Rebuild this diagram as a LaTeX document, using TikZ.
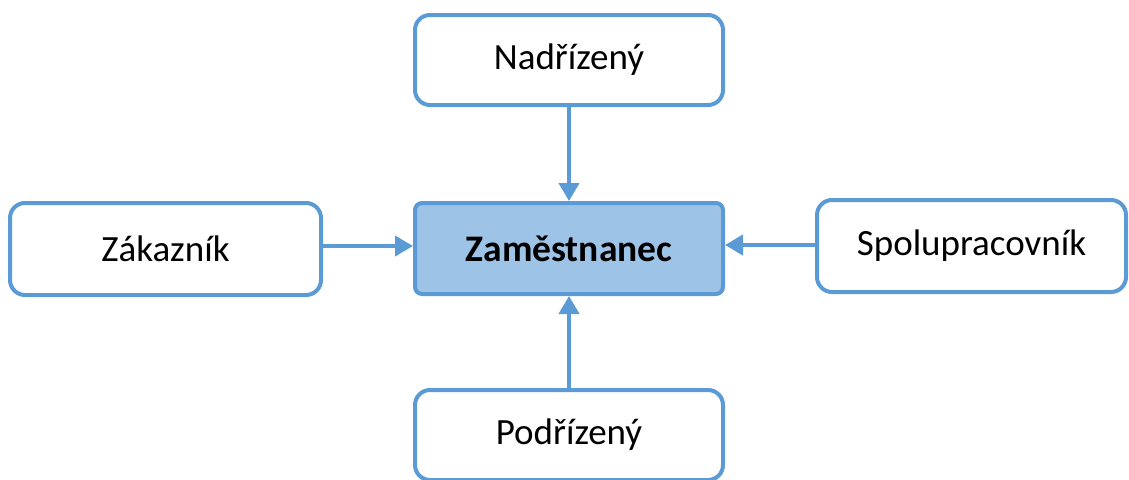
\documentclass[tikz,border=0pt]{standalone}
\usepackage{fontspec}
\setmainfont{Carlito}
\usetikzlibrary{arrows.meta}
\definecolor{boxblue}{HTML}{5B9BD5}
\definecolor{fillblue}{HTML}{9DC3E6}
\tikzset{
  outerbox/.style={draw=boxblue, line width=4pt, rounded corners=15pt, fill=white,
    minimum width=308pt, minimum height=90pt, font=\fontsize{37}{44}\selectfont, inner sep=0pt},
  mainbox/.style={outerbox, fill=fillblue, rounded corners=7pt, font=\fontsize{37.5}{44}\selectfont\bfseries},
  conn/.style={draw=boxblue, line width=4pt, -{Triangle[length=18pt,width=20pt]}}
}
\begin{document}
\begin{tikzpicture}[x=1pt,y=1pt]
\useasboundingbox (0,0) rectangle (1129,-479);
\node[outerbox] (top) at (569,-60) {Nadřízený};
\node[mainbox, minimum height=91pt] (center) at (569,-248.5) {Zaměstnanec};
\node[outerbox, minimum width=311pt, minimum height=92pt] (left) at (165.5,-249) {Zákazník};
\node[outerbox, minimum width=309pt, minimum height=92pt] (right) at (971.5,-246) {Spolupracovník};
\node[outerbox] (bottom) at (569,-435) {Podřízený};
\draw[conn] (top.south) -- (center.north);
\draw[conn] (bottom.north) -- (center.south);
\draw[conn] ([yshift=3pt]left.east) -- ([yshift=3pt]left.east -| center.west);
\draw[conn] ([yshift=1pt]right.west) -- ([yshift=1pt]right.west -| center.east);
\end{tikzpicture}
\end{document}
